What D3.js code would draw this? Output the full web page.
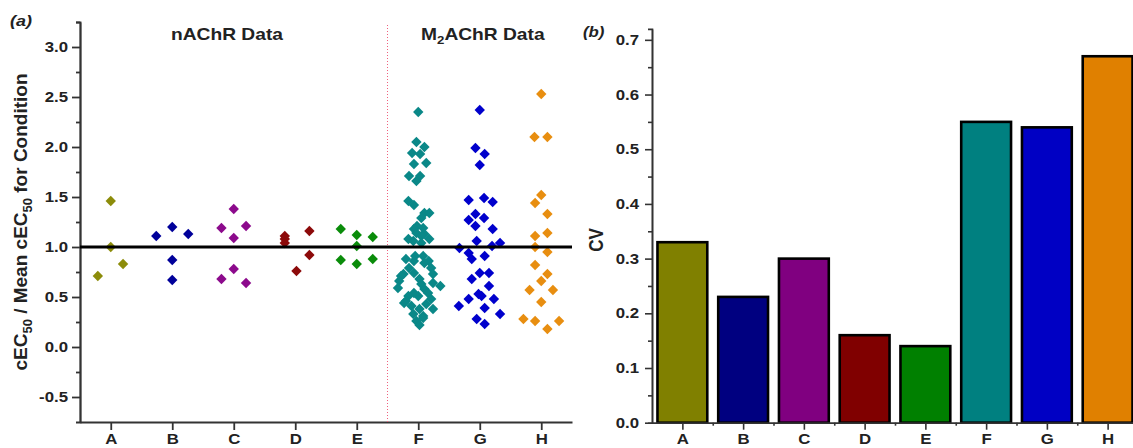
<!DOCTYPE html>
<html><head><meta charset="utf-8">
<script src="https://cdn.jsdelivr.net/npm/d3@7"></script>
<style>
body{margin:0;background:#fff;}
svg{display:block;font-family:Arial,"Liberation Sans",sans-serif;}
</style></head><body>
<svg id="fig" width="1133" height="448"></svg>
<script>
// ---- data ----
const categories = ["A","B","C","D","E","F","G","H"];

// panel (a): cEC50 / mean cEC50 for each condition; jitter is the horizontal spread in category units
const ratioA = [1.46, 1.00, 0.83, 0.71];
const jitterA = [0, 0, 0.2, -0.21];
const ratioB = [1.20, 1.13, 1.11, 0.87, 0.67];
const jitterB = [0, 0.26, -0.26, 0, 0];
const ratioC = [1.38, 1.21, 1.19, 1.09, 0.78, 0.68, 0.64];
const jitterC = [0, 0.2, -0.2, 0, 0, -0.2, 0.2];
const ratioD = [1.16, 1.11, 1.08, 1.04, 0.92, 0.76];
const jitterD = [0.23, -0.17, -0.17, -0.17, 0.23, 0.02];
const ratioE = [1.18, 1.12, 1.10, 1.01, 0.88, 0.87, 0.83];
const jitterE = [-0.26, 0, 0.26, 0, 0.26, -0.26, 0];
const ratioF = [2.35,2.05,2.00,1.94,1.93,1.84,1.83,1.71,1.71,1.66,1.46,1.42,1.34,1.34,1.29,1.21,1.19,1.18,1.14,1.13,1.11,
  1.08,1.08,1.06,1.04,0.91,0.91,0.88,0.86,0.86,0.84,0.79,0.79,0.74,0.73,0.73,0.71,0.68,0.66,0.64,0.63,0.61,0.59,0.58,
  0.54,0.54,0.51,0.51,0.48,0.46,0.44,0.43,0.41,0.38,0.38,0.33,0.31,0.29,0.26,0.22];
const jitterF = [0,-0.03,0.1,-0.1,0.03,0.13,-0.07,-0.15,0.03,-0.03,-0.16,-0.07,0.1,0.18,0.05,-0.02,0.08,-0.07,-0.03,0.1,0.05,
  -0.16,0.18,-0.08,0.05,-0.05,0.08,-0.2,-0.07,0.17,0.1,-0.15,0.21,-0.07,-0.24,0.24,-0.28,0.02,-0.31,0.24,0.05,0.36,-0.33,0.1,
  -0.07,0.16,-0.16,0,0.21,-0.2,-0.23,0.13,-0.11,0.02,0.24,-0.08,0.08,0.08,-0.03,0.02];
const ratioG = [2.37,1.99,1.93,1.82,1.49,1.47,1.45,1.33,1.29,1.27,1.21,1.18,1.06,1.04,1.01,0.99,0.94,0.91,0.88,0.74,
  0.74,0.68,0.61,0.53,0.51,0.48,0.48,0.41,0.39,0.33,0.28,0.23];
const jitterG = [0,-0.07,0.08,0,0.07,-0.18,0.21,-0.07,0.07,-0.18,-0.07,0.21,-0.05,0.33,0.2,-0.33,-0.18,0.08,-0.13,0,
  0.15,-0.13,0.15,-0.02,0.03,-0.18,0.23,-0.34,0.08,0.33,-0.05,0.08];
const ratioH = [2.53,2.10,2.10,1.52,1.44,1.33,1.14,1.11,1.00,0.95,0.82,0.73,0.66,0.57,0.57,0.45,0.28,0.26,0.26,0.18];
const jitterH = [0,-0.11,0.1,0,-0.1,0.1,0.1,-0.1,-0.1,0.1,-0.1,0.1,0,-0.19,0.19,0,-0.29,-0.1,0.29,0.1];

// panel (b): coefficient of variation per condition
const cvValues = [0.33, 0.23, 0.30, 0.16, 0.14, 0.55, 0.54, 0.67];

const ratioTicks = [-0.5, 0, 0.5, 1.0, 1.5, 2.0, 2.5, 3.0];
const cvTicks = [0, 0.1, 0.2, 0.3, 0.4, 0.5, 0.6, 0.7];

const pointColors = ["#8c8c0a","#00009a","#8c0a8c","#8c0a0a","#0a8c0a","#0a8888","#0000cc","#e88e10"];
const barColors   = ["#808000","#000080","#800080","#800000","#008000","#008080","#0000c4","#e08000"];

const ratios = [ratioA, ratioB, ratioC, ratioD, ratioE, ratioF, ratioG, ratioH];
const jitters = [jitterA, jitterB, jitterC, jitterD, jitterE, jitterF, jitterG, jitterH];
const points = [];
ratios.forEach((vals, i) => vals.forEach((v, j) => points.push({cat: i + 1, dx: jitters[i][j], v, color: pointColors[i]})));

// ---- drawing ----
const svg = d3.select("#fig");
const STRETCH = 1.2;
const AX = "#333";

function styleAxis(g, w) {
  g.select(".domain").attr("stroke", AX).attr("stroke-width", w);
  g.selectAll(".tick line").attr("stroke", AX).attr("stroke-width", w);
  g.selectAll("text").attr("fill", "#222").attr("font-weight", "bold").attr("font-size", 14)
    .attr("font-family", "Arial, 'Liberation Sans', sans-serif");
}
function widenLeftLabels(g) {
  g.selectAll(".tick text").each(function () {
    const t = d3.select(this);
    const x = +t.attr("x");
    t.attr("x", 0).attr("transform", `translate(${x},0) scale(${STRETCH},1)`);
  });
}
function widenBottomLabels(g) {
  g.selectAll(".tick text").attr("transform", `scale(${STRETCH},1)`);
}
const fmt = d => d.toFixed(1);

// ===== panel (a) =====
const xA = d3.scaleLinear().domain([0.5, 8.5]).range([80, 572]);
const yA = d3.scaleLinear().domain([-0.75, 3.25]).range([422, 22]);

// minor ticks
svg.append("g").attr("transform", "translate(80,0)")
  .call(d3.axisLeft(yA).tickValues(d3.range(-0.25, 3.3, 0.5)).tickSize(4).tickFormat(""))
  .call(g => { styleAxis(g, 1.8); });
svg.append("g").attr("transform", "translate(80,0)")
  .call(d3.axisLeft(yA).tickValues(ratioTicks).tickSize(8).tickPadding(4).tickFormat(fmt).tickSizeOuter(0))
  .call(g => { styleAxis(g, 1.8); widenLeftLabels(g); });

svg.append("g").attr("transform", "translate(0,422)")
  .call(d3.axisBottom(xA).tickValues(d3.range(1, 9)).tickFormat(d => categories[d - 1]).tickSize(8).tickPadding(4).tickSizeOuter(0))
  .call(g => { styleAxis(g, 1.8); widenBottomLabels(g); });

// separator between receptor groups
svg.append("line")
  .attr("x1", xA(5.5)).attr("x2", xA(5.5)).attr("y1", yA(3.22)).attr("y2", yA(-0.75))
  .attr("stroke", "#f0607e").attr("stroke-width", 1).attr("stroke-dasharray", "1,2")
  .attr("shape-rendering", "crispEdges");

// points
const diamond = d3.symbol().type(d3.symbolSquare).size(54);
svg.append("g").selectAll("path").data(points).join("path")
  .attr("d", diamond)
  .attr("transform", d => `translate(${xA(d.cat + d.dx)},${yA(d.v)}) rotate(45)`)
  .attr("fill", d => d.color);

// reference line at ratio 1
svg.append("line")
  .attr("x1", xA(0.5)).attr("x2", xA(8.5)).attr("y1", yA(1)).attr("y2", yA(1))
  .attr("stroke", "#000").attr("stroke-width", 3);

// group titles
svg.append("text").attr("transform", `translate(${xA(2.89)},40) scale(${STRETCH},1)`)
  .attr("text-anchor", "middle").attr("font-weight", "bold").attr("font-size", 16).attr("fill", "#222")
  .text("nAChR Data");
const m2 = svg.append("text").attr("transform", `translate(${xA(7.05)},40) scale(${STRETCH},1)`)
  .attr("text-anchor", "middle").attr("font-weight", "bold").attr("font-size", 16).attr("fill", "#222");
m2.append("tspan").text("M");
m2.append("tspan").attr("font-size", 11).attr("dy", 4).text("2");
m2.append("tspan").attr("dy", -4).text("AChR Data");

// y axis title
const yt = svg.append("text").attr("transform", "translate(27,222) rotate(-90)")
  .attr("text-anchor", "middle").attr("font-weight", "bold").attr("font-size", 19).attr("fill", "#222");
yt.append("tspan").text("cEC");
yt.append("tspan").attr("font-size", 13).attr("dy", 5).text("50");
yt.append("tspan").attr("dy", -5).text(" / Mean cEC");
yt.append("tspan").attr("font-size", 13).attr("dy", 5).text("50");
yt.append("tspan").attr("dy", -5).text(" for Condition");

svg.append("text").attr("transform", `translate(10,26) scale(${STRETCH},1)`)
  .attr("font-weight", "bold").attr("font-style", "italic").attr("font-size", 15).attr("fill", "#222").text("(a)");

// ===== panel (b) =====
const xB = d3.scaleLinear().domain([0.5, 8.5]).range([652, 1138]);
const yB = d3.scaleLinear().domain([0, 0.72]).range([422.7, 28.9]);

svg.append("g").selectAll("rect").data(cvValues).join("rect")
  .attr("x", (d, i) => xB(i + 1 - 0.41))
  .attr("width", xB(1.82) - xB(1))
  .attr("y", d => yB(d))
  .attr("height", d => yB(0) - yB(d))
  .attr("fill", (d, i) => barColors[i])
  .attr("stroke", "#000").attr("stroke-width", 2.6);

svg.append("g").attr("transform", "translate(652,0)")
  .call(d3.axisLeft(yB).tickValues(d3.range(0.05, 0.7, 0.1)).tickSize(4).tickFormat(""))
  .call(g => styleAxis(g, 1.6));
svg.append("g").attr("transform", "translate(652,0)")
  .call(d3.axisLeft(yB).tickValues(cvTicks).tickSize(7).tickPadding(6).tickFormat(fmt).tickSizeOuter(0))
  .call(g => { styleAxis(g, 1.6); widenLeftLabels(g); });

svg.append("g").attr("transform", "translate(0,422.7)")
  .call(d3.axisBottom(xB).tickValues(d3.range(1.5, 8.5, 1)).tickSize(3).tickFormat("").tickSizeOuter(0))
  .call(g => styleAxis(g, 1.6));
svg.append("g").attr("transform", "translate(0,422.7)")
  .call(d3.axisBottom(xB).tickValues(d3.range(1, 9)).tickFormat(d => categories[d - 1]).tickSize(7).tickPadding(4).tickSizeOuter(0))
  .call(g => { styleAxis(g, 1.6); widenBottomLabels(g); });

svg.append("text").attr("transform", `translate(603,240) rotate(-90) scale(1,${STRETCH})`)
  .attr("text-anchor", "middle").attr("font-weight", "bold").attr("font-size", 17).attr("fill", "#222").text("CV");

svg.append("text").attr("transform", `translate(583,37) scale(${STRETCH},1)`)
  .attr("font-weight", "bold").attr("font-style", "italic").attr("font-size", 14).attr("fill", "#222").text("(b)");
</script>
</body></html>
